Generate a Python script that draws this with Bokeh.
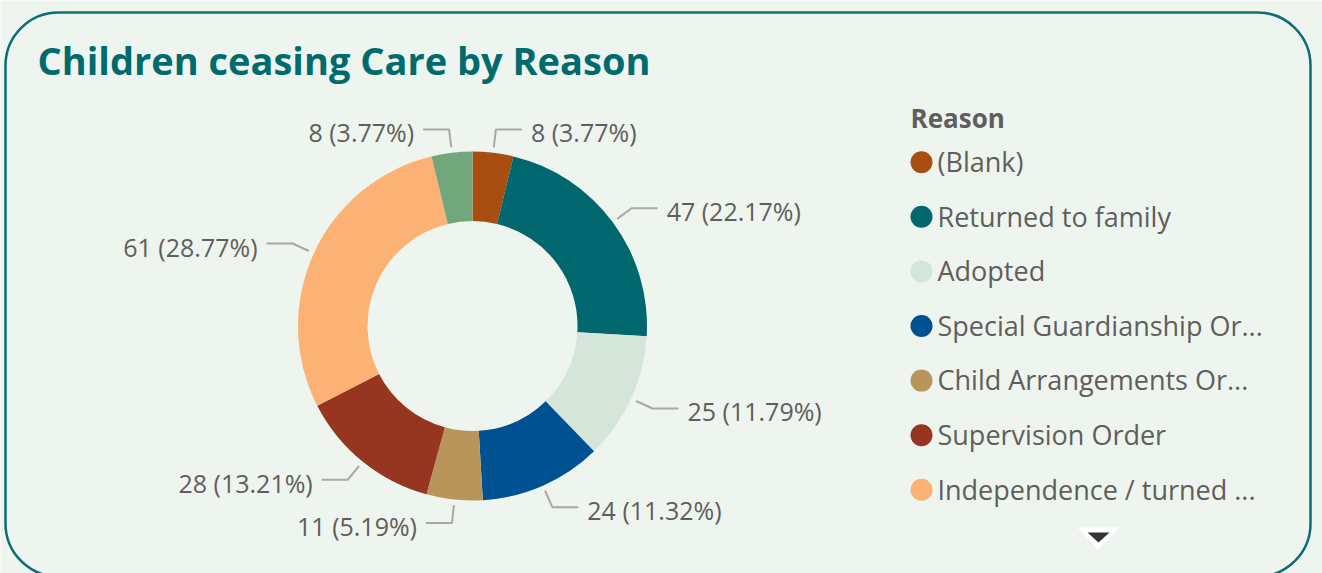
import math
from bokeh.plotting import figure
from bokeh.models import Range1d, BoxAnnotation
from bokeh.core.properties import value
from bokeh.embed import file_html
from bokeh.resources import INLINE

# ---- data ----
title_text = "Children ceasing Care by Reason"
legend_title = "Reason"
reasons = ["(Blank)", "Returned to family", "Adopted", "Special Guardianship Order",
           "Child Arrangements Order", "Supervision Order", "Independence / turned 18", "Other"]
legend_labels = ["(Blank)", "Returned to family", "Adopted", "Special Guardianship Or...",
                 "Child Arrangements Or...", "Supervision Order", "Independence / turned ..."]
counts = [8, 47, 25, 24, 11, 28, 61, 8]
colors = ["#A84E10", "#00676E", "#D6E5DA", "#005192", "#B8955B", "#963520", "#FBB274", "#72A67B"]

# ---- layout constants (reference pixel space, y flipped) ----
W, H = 1322, 573
BG = "#EEF5EE"
TEXT = "#605E5C"
TEAL = "#006B6F"

def Y(yr):
    return H - yr

def TB(yr, size):
    # alphabetic baseline correction for rendered text
    return H - yr + 0.4 * size

p = figure(width=W, height=H, x_range=Range1d(0, W), y_range=Range1d(0, H),
           output_backend="svg", toolbar_location=None, min_border=0,
           background_fill_color=BG, border_fill_color=BG, outline_line_color=None)
p.axis.visible = False
p.xgrid.visible = False
p.ygrid.visible = False

# frame border
p.add_layout(BoxAnnotation(left=5, right=1310, top=Y(12), bottom=Y(576), border_radius=53,
                           fill_color=None, fill_alpha=0, line_color="#0B6E74", line_alpha=1.0,
                           line_width=2.5))

# title
p.text(x=[37], y=[TB(75, 38)], text=[title_text], text_font=value("Open Sans"),
       text_font_style="bold", text_font_size="38px", text_color=TEAL,
       text_baseline="alphabetic", text_align="left")

# donut
cx, cy = 472, Y(325.5)
r_out, r_in = 174.5, 105
total = sum(counts)
starts, ends, mids = [], [], []
cum = 0
for c in counts:
    a0 = math.pi / 2 - cum / total * 2 * math.pi
    cum += c
    a1 = math.pi / 2 - cum / total * 2 * math.pi
    starts.append(a0)
    ends.append(a1)
    mids.append((a0 + a1) / 2)

p.annular_wedge(x=[cx] * len(counts), y=[cy] * len(counts), inner_radius=r_in, outer_radius=r_out,
                start_angle=starts, end_angle=ends, direction="clock",
                fill_color=colors, line_color=None)

# labels with leader lines
xs, ys = [], []
lx_r, ly_r, lt_r = [], [], []
lx_l, ly_l, lt_l = [], [], []
for c, m in zip(counts, mids):
    x0, y0 = cx + 180 * math.cos(m), cy + 180 * math.sin(m)
    x1, y1 = cx + 198 * math.cos(m), cy + 198 * math.sin(m)
    right = math.cos(m) >= 0
    x2 = x1 + 26 if right else x1 - 26
    xs.append([x0, x1, x2])
    ys.append([y0, y1, y1])
    lab = f"{c} ({c / total * 100:.2f}%)"
    ty = y1 - 13 + 0.4 * 25
    if right:
        lx_r.append(x2 + 9); ly_r.append(ty); lt_r.append(lab)
    else:
        lx_l.append(x2 - 9); ly_l.append(ty); lt_l.append(lab)

p.multi_line(xs=xs, ys=ys, line_color="#A8A8A8", line_width=2)
p.text(x=lx_r, y=ly_r, text=lt_r, text_font=value("Open Sans"), text_font_size="25px",
       text_color=TEXT, text_baseline="alphabetic", text_align="left")
p.text(x=lx_l, y=ly_l, text=lt_l, text_font=value("Open Sans"), text_font_size="25px",
       text_color=TEXT, text_baseline="alphabetic", text_align="right")

# legend
p.text(x=[910], y=[TB(128, 26)], text=[legend_title], text_font=value("Open Sans"),
       text_font_style="bold", text_font_size="26px", text_color=TEXT,
       text_baseline="alphabetic", text_align="left")
leg_yr = [161.7 + 54.6 * i for i in range(len(legend_labels))]
p.scatter(x=[921] * len(legend_labels), y=[Y(v) for v in leg_yr], size=22, marker="circle",
          fill_color=colors[:len(legend_labels)], line_color=None)
p.text(x=[937] * len(legend_labels), y=[TB(v + 10, 27) for v in leg_yr], text=legend_labels,
       text_font=value("Open Sans"), text_font_size="27px", text_color=TEXT,
       text_baseline="alphabetic", text_align="left")

# scroll arrow
p.patch(x=[1077, 1119, 1098], y=[Y(527), Y(527), Y(549)], fill_color="white", line_color=None)
p.patch(x=[1087, 1109, 1098], y=[Y(532), Y(532), Y(542)], fill_color="#333333", line_color=None)

html = file_html(p, INLINE)
html = html.replace("<body>", f'<body style="background-color:{BG};">', 1)
open("out.html", "w").write(html)
